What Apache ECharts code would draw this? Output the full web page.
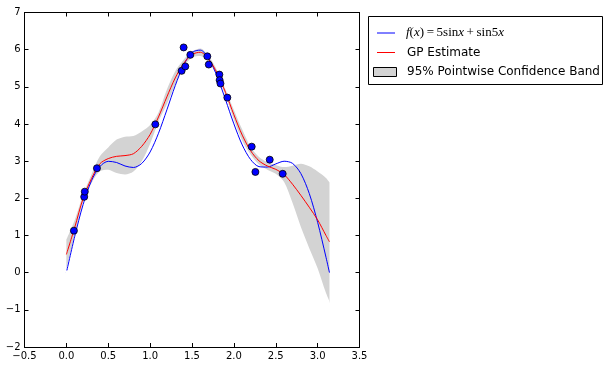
<!DOCTYPE html>
<html>
<head>
<meta charset="utf-8">
<script src="https://cdn.jsdelivr.net/npm/echarts@6/dist/echarts.min.js"></script>
<style>
html,body{margin:0;padding:0;background:#fff;}
#chart{width:611px;height:368px;}
</style>
</head>
<body>
<div id="chart"></div>
<script>
// x grid for curves
const xGrid = [0,0.1,0.2,0.3,0.4,0.5,0.6,0.7,0.8,0.9,1.0,1.1,1.2,1.3,1.4,1.5,1.6,1.7,1.8,1.9,2.0,2.1,2.2,2.3,2.4,2.5,2.6,2.7,2.8,2.9,3.0,3.1,3.1416];
// true function values (blue)
const fVals = [0,0.979,1.835,2.475,2.856,2.996,2.964,2.870,2.830,2.939,3.248,3.751,4.381,5.033,5.584,5.926,5.987,5.757,5.281,4.656,4.003,3.436,3.043,2.853,2.841,2.926,2.998,2.941,2.666,2.131,1.356,0.414,0];
// GP estimate (red)
const gpMean = [0.49,1.22,2.00,2.53,2.93,3.07,3.13,3.15,3.20,3.40,3.72,4.19,4.73,5.24,5.63,5.87,5.93,5.74,5.37,4.85,4.25,3.70,3.28,3.01,2.87,2.78,2.64,2.38,2.08,1.76,1.42,1.00,0.83];
// half width of 95% band
const gpHalf = [0.40,0.20,0.10,0.12,0.20,0.30,0.45,0.51,0.48,0.40,0.25,0.12,0.20,0.18,0.10,0.08,0.10,0.08,0.07,0.08,0.13,0.15,0.10,0.10,0.10,0.12,0.20,0.50,0.85,1.10,1.30,1.55,1.60];
// observations
const ptX = [0.09,0.213,0.22,0.365,1.062,1.376,1.40,1.42,1.48,1.683,1.70,1.827,1.83,1.84,1.922,2.213,2.257,2.428,2.583];
const ptY = [1.13,2.04,2.18,2.81,3.99,5.43,6.06,5.55,5.86,5.82,5.60,5.33,5.18,5.09,4.71,3.39,2.71,3.04,2.66];

const legendLabels = ['f(x)=5sinx+sin5x','GP Estimate','95% Pointwise Confidence Band'];

const fmt = v => { const s = (Math.abs(v) < 1e-9 ? 0 : v); return String(s).replace('-', '\u2212'); };
const fmtX = v => (Math.abs(v) < 1e-9 ? 0 : v).toFixed(1).replace('-', '\u2212');

const fData = xGrid.map((x,i)=>[x,fVals[i]]);
const meanData = xGrid.map((x,i)=>[x,gpMean[i]]);
const lowData = xGrid.map((x,i)=>[x,+(gpMean[i]-gpHalf[i]).toFixed(3)]);
const upData = xGrid.map((x,i)=>[x,+(gpMean[i]+gpHalf[i]).toFixed(3)]);
const pts = ptX.map((x,i)=>[x,ptY[i]]);
const yMin = -2;
const nLast = xGrid.length - 1;

const chart = echarts.init(document.getElementById('chart'), null, {renderer:'canvas'});
const axisCommon = {
  z:20,
  axisLine:{show:true,onZero:false,lineStyle:{color:'#000',width:1}},
  axisTick:{show:true,inside:true,length:4,lineStyle:{color:'#000'}},
  splitLine:{show:false}
};
const fontTick = {color:'#000',fontFamily:'DejaVu Sans',fontSize:10};
chart.setOption({
  animation:false,
  backgroundColor:'#fff',
  grid:{left:24.5,top:12.5,width:335,height:334.5,containLabel:false},
  xAxis:[
    Object.assign({type:'value',min:-0.5,max:3.5,interval:0.5,position:'bottom',
      axisLabel:Object.assign({formatter:fmtX,margin:4},fontTick)},axisCommon),
    Object.assign({type:'value',min:-0.5,max:3.5,interval:0.5,position:'top',
      axisLabel:{show:false}},axisCommon)
  ],
  yAxis:[
    Object.assign({type:'value',min:yMin,max:7,interval:1,position:'left',
      axisLabel:Object.assign({formatter:fmt,margin:4},fontTick)},axisCommon),
    Object.assign({type:'value',min:yMin,max:7,interval:1,position:'right',
      axisLabel:{show:false}},axisCommon)
  ],
  series:[
    {type:'line',data:upData,smooth:0.3,symbol:'none',
      lineStyle:{opacity:0},areaStyle:{color:'#d3d3d3',opacity:1,origin:'start'},z:1,silent:true},
    {type:'line',data:lowData,smooth:0.3,symbol:'none',
      lineStyle:{opacity:0},areaStyle:{color:'#ffffff',opacity:1,origin:'start'},z:1.5,silent:true,
      markLine:{silent:true,symbol:'none',label:{show:false},
        lineStyle:{color:'#ffffff',width:2,type:'solid'},
        data:[
          [{coord:[xGrid[0],yMin]},{coord:[xGrid[0],lowData[0][1]-0.03]}],
          [{coord:[xGrid[nLast],yMin]},{coord:[xGrid[nLast],lowData[nLast][1]-0.03]}]
        ]}},
    {type:'line',name:legendLabels[0],data:fData,smooth:0.3,symbol:'none',
      lineStyle:{color:'#0000ff',width:1},z:2},
    {type:'line',name:legendLabels[1],data:meanData,smooth:0.3,symbol:'none',
      lineStyle:{color:'#ff0000',width:1},z:3},
    {type:'scatter',data:pts,symbolSize:7,
      itemStyle:{color:'#0000ff',borderColor:'#000',borderWidth:0.8,opacity:1},z:4}
  ],
  graphic:[
    {type:'rect',shape:{x:368.5,y:16.5,width:234,height:68},style:{fill:'#fff',stroke:'#000',lineWidth:1},z:10},
    {type:'line',shape:{x1:377,y1:33,x2:395,y2:33},style:{stroke:'#0000ff',lineWidth:1},z:11},
    {type:'text',x:406,y:33,z:11,style:{
      text:'{i|f}{n|(}{i|x}{n|)\u2009=\u20095sin}{i|x}{n|\u2009+\u2009sin5}{i|x}',
      verticalAlign:'middle',
      rich:{
        i:{fontFamily:'Liberation Serif',fontStyle:'italic',fontSize:13,fill:'#000'},
        n:{fontFamily:'Liberation Serif',fontSize:13,fill:'#000'}
      }}},
    {type:'line',shape:{x1:377,y1:52.5,x2:395,y2:52.5},style:{stroke:'#ff0000',lineWidth:1},z:11},
    {type:'text',x:407,y:52.5,z:11,style:{text:legendLabels[1],fontFamily:'DejaVu Sans',fontSize:12,fill:'#000',verticalAlign:'middle'}},
    {type:'rect',shape:{x:373.5,y:67.5,width:23,height:9},style:{fill:'#d3d3d3',stroke:'#000',lineWidth:1},z:11},
    {type:'text',x:407,y:72,z:11,style:{text:legendLabels[2],fontFamily:'DejaVu Sans',fontSize:12,fill:'#000',verticalAlign:'middle'}}
  ]
});
</script>
</body>
</html>
